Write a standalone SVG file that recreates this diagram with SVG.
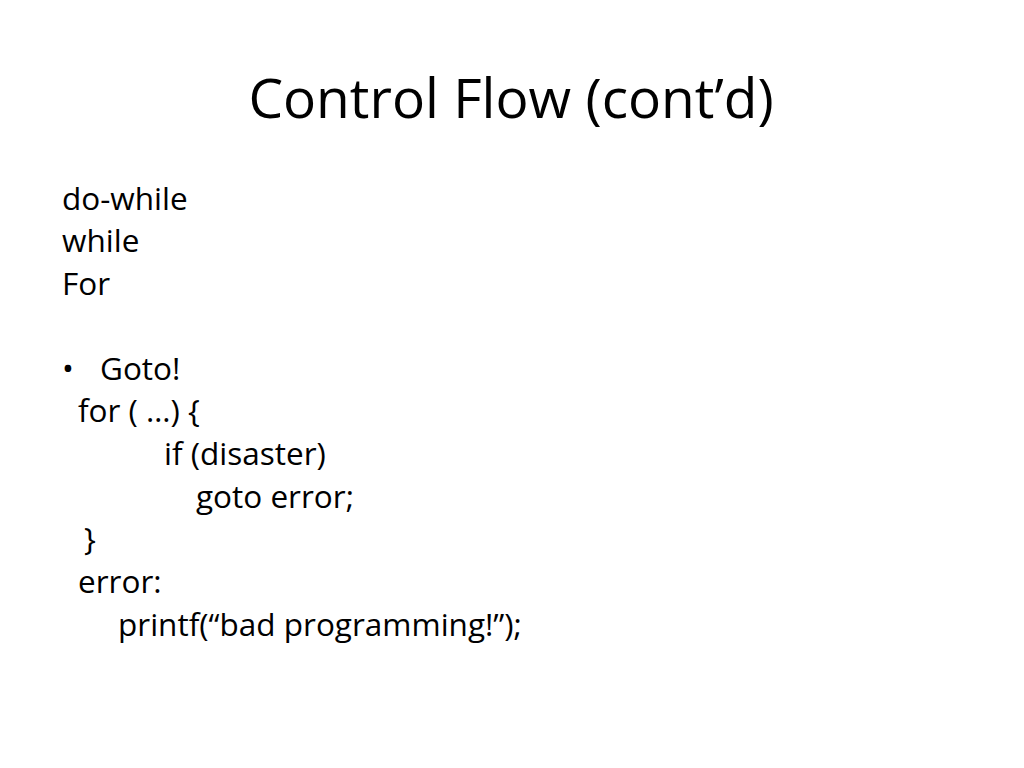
<svg xmlns="http://www.w3.org/2000/svg" width="1024" height="768" viewBox="0 0 1024 768">
<style>
text{font-family:"Open Sans","Liberation Sans",sans-serif;fill:#000}
.t{font-size:55px}
.b{font-size:31.5px}
</style>
<rect width="1024" height="768" fill="#fff"/>
<text class="t" x="511" y="118" text-anchor="middle">Control Flow (cont’d)</text>
<text class="b" x="62" y="210">do-while</text>
<text class="b" x="62" y="252">while</text>
<text class="b" x="62" y="295">For</text>
<text class="b" x="62" y="380">•</text>
<text class="b" x="100" y="380">Goto!</text>
<text class="b" x="78" y="422">for ( …) {</text>
<text class="b" x="164" y="465">if (disaster)</text>
<text class="b" x="196" y="508">goto error;</text>
<text class="b" x="84" y="550">}</text>
<text class="b" x="78" y="593">error:</text>
<text class="b" x="118" y="636">printf(“bad programming!”);</text>
</svg>
